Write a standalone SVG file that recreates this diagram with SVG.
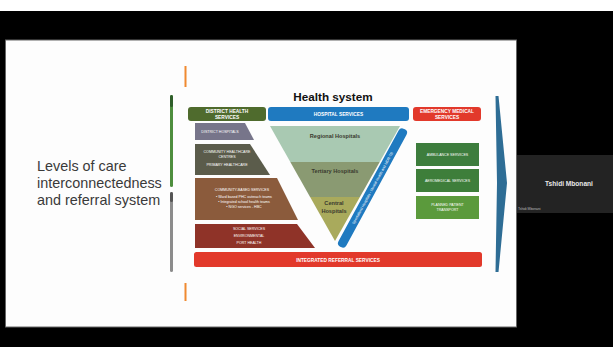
<svg xmlns="http://www.w3.org/2000/svg" width="613" height="347" viewBox="0 0 613 347">
<style>
text{font-family:"Liberation Sans",Arial,sans-serif}
.hd{font-size:4.8px;font-weight:bold;fill:#fff;text-anchor:middle}
.sm{font-size:3.6px;fill:#fff;text-anchor:middle}
.vt{font-size:5.6px;font-weight:bold;fill:#3a3a2e;text-anchor:middle}
</style>
<rect x="0" y="0" width="613" height="347" fill="#000"/>
<rect x="0" y="0" width="613" height="11" fill="#fff"/>
<rect x="5.5" y="40" width="511" height="287" fill="#fdfdfd" stroke="#666" stroke-width="1"/>

<g id="side-text">
<text x="37" y="171" font-size="14.4" fill="#3a3a3a">Levels of care</text>
<text x="37" y="188" font-size="14.4" fill="#3a3a3a">interconnectedness</text>
<text x="37" y="205" font-size="14.4" fill="#3a3a3a">and referral system</text>
</g>

<g id="marks">
<rect x="184.5" y="66" width="2" height="21" fill="#f08a30"/>
<rect x="184.5" y="283" width="2" height="18" fill="#f08a30"/>
<rect x="170" y="95" width="3" height="92" rx="1.5" fill="#4e8e3e"/>
<rect x="170" y="95" width="3" height="12" rx="1.5" fill="#2f5e2a"/>
<rect x="170" y="192" width="3" height="80" rx="1.5" fill="#8c8c8c"/>
<rect x="170" y="192" width="3" height="10" rx="1.5" fill="#555"/>
</g>

<text x="333" y="101" font-size="11.7" font-weight="bold" fill="#111" text-anchor="middle">Health system</text>

<g id="district-header">
<rect x="188" y="107" width="78" height="14" rx="3" fill="#4f6b2d"/>
<text class="hd" x="227" y="113">DISTRICT HEALTH</text>
<text class="hd" x="227" y="118.5">SERVICES</text>
</g>
<g id="hospital-header">
<rect x="268" y="107" width="141" height="14" rx="3" fill="#1f7ac0"/>
<text class="hd" x="338.5" y="116">HOSPITAL SERVICES</text>
</g>
<g id="ems-header">
<rect x="413" y="107" width="68" height="14" rx="3" fill="#e2392b"/>
<text class="hd" x="447" y="113">EMERGENCY MEDICAL</text>
<text class="hd" x="447" y="118.5">SERVICES</text>
</g>

<g id="district-hospitals">
<polygon points="195,123 245,123 254,140 195,140" fill="#77758a"/>
<text class="sm" x="220" y="133">DISTRICT HOSPITALS</text>
</g>
<g id="chc">
<polygon points="195,144 250,144 270,175 195,175" fill="#5b5c4b"/>
<text class="sm" x="227" y="153">COMMUNITY HEALTHCARE</text>
<text class="sm" x="227" y="158">CENTRES</text>
<text class="sm" x="227" y="166">PRIMARY HEALTHCARE</text>
</g>
<g id="cbs">
<polygon points="195,178 277,178 298,220 195,220" fill="#8b5b3c"/>
<text class="sm" x="242" y="191">COMMUNITY-BASED SERVICES</text>
<text class="sm" x="244" y="198">• Ward based PHC outreach teams</text>
<text class="sm" x="244" y="203">• Integrated school health teams</text>
<text class="sm" x="244" y="208">• NGO services - HBC</text>
</g>
<g id="social">
<polygon points="195,224 297,224 315,248 195,248" fill="#8f3328"/>
<text class="sm" x="249" y="230">SOCIAL SERVICES</text>
<text class="sm" x="249" y="237">ENVIRONMENTAL</text>
<text class="sm" x="249" y="244">PORT HEALTH</text>
</g>

<g id="regional">
<polygon points="270,126 400,126 379.7,162 290.3,162" fill="#a9c9b2"/>
<text class="vt" x="335" y="138">Regional Hospitals</text>
</g>
<g id="tertiary">
<polygon points="290.3,162 379.7,162 359.9,197 310.1,197" fill="#8a9a72"/>
<text class="vt" x="335" y="173">Tertiary Hospitals</text>
</g>
<g id="central">
<polygon points="310.1,197 359.9,197 335,241" fill="#a9aa5c"/>
<text class="vt" x="334" y="205">Central</text>
<text class="vt" x="334" y="213">Hospitals</text>
</g>
<g id="specialised" transform="translate(372.5,188) rotate(-61.5)">
<rect x="-67" y="-4.5" width="134" height="9" rx="4" fill="#1f7ac0"/>
<text class="sm" x="0" y="1.3" font-size="3.4">Specialised Hospitals - Mental Health and MDR-TB</text>
</g>

<g id="ambulance">
<rect x="416" y="143" width="63" height="23" fill="#3d7d3d"/>
<text class="sm" x="447.5" y="156">AMBULANCE SERVICES</text>
</g>
<g id="aeromedical">
<rect x="416" y="169" width="63" height="23" fill="#3e7e3a"/>
<text class="sm" x="447.5" y="182">AEROMEDICAL SERVICES</text>
</g>
<g id="planned">
<rect x="416" y="196" width="63" height="23" fill="#5b9a3c"/>
<text class="sm" x="447.5" y="206">PLANNED PATIENT</text>
<text class="sm" x="447.5" y="210.5">TRANSPORT</text>
</g>

<g id="referral">
<rect x="194" y="252" width="288" height="15" rx="2.5" fill="#e2392b"/>
<text class="hd" x="338" y="261.5" font-size="4.4">INTEGRATED REFERRAL SERVICES</text>
</g>

<g id="connectors">
<polygon points="495.5,96 498.5,96 507,183 498.5,272 495.5,272 497,183" fill="#2e6d95"/>
</g>

<g id="speaker">
<rect x="517" y="155" width="96" height="58" fill="#232323"/>
<text x="569" y="186" font-size="6.6" font-weight="bold" fill="#e8e8e8" text-anchor="middle">Tshidi Mbonani</text>
<text x="518" y="210" font-size="3.4" fill="#bbb">Tshidi Mbonani</text>
</g>
</svg>
